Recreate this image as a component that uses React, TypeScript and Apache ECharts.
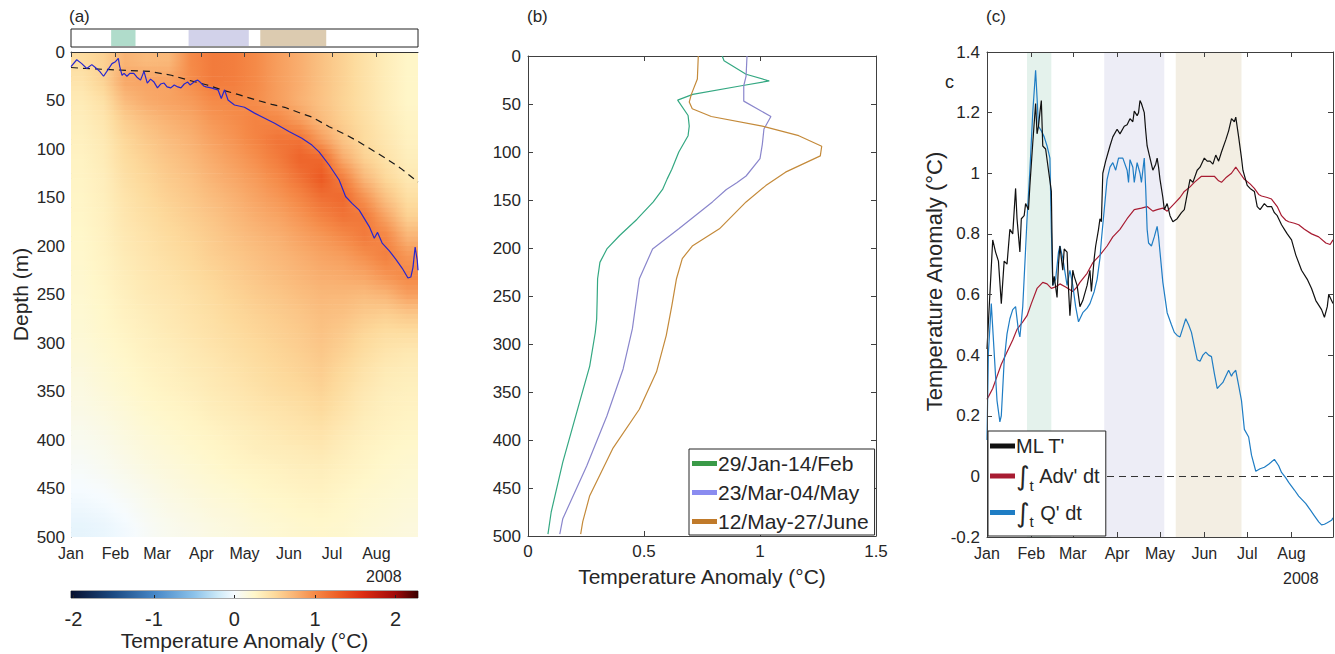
import React, { useEffect, useRef } from "react";
import * as echarts from "echarts";

// ---------- shared time axis ----------
const monthNames = ["Jan", "Feb", "Mar", "Apr", "May", "Jun", "Jul", "Aug"];
const monthStartDays = [0, 31, 60, 91, 121, 152, 182, 213];
const dayMax = 242;
const yearLabel = "2008";

// shaded periods (day of year 2008, 0 = Jan 1)
const bandStarts = [28, 82, 132];
const bandEnds = [45, 124, 178];

// ---------- panel (a): temperature anomaly section ----------
const heatTimeEdges = [0, 15, 30, 45, 60, 76, 91, 106, 121, 136, 152, 167, 182, 197, 212, 227, 242];
const heatDepthEdges = [0, 20, 40, 60, 80, 100, 120, 140, 160, 180, 200, 220, 240, 260, 280, 300, 320, 340, 360, 380, 400, 420, 440, 460, 480, 500];
// rows = depth layers (10 m, 30 m, ... 490 m), columns = half-month periods
const anomalyRows = [
  [0.48, 0.55, 0.75, 0.70, 0.72, 1.00, 1.10, 1.08, 1.00, 0.88, 0.78, 0.66, 0.55, 0.44, 0.34, 0.26],
  [0.42, 0.55, 0.82, 0.85, 0.85, 0.98, 1.10, 1.08, 1.00, 0.88, 0.78, 0.66, 0.55, 0.44, 0.34, 0.26],
  [0.36, 0.45, 0.70, 0.80, 0.85, 0.90, 1.00, 1.02, 0.98, 0.88, 0.76, 0.65, 0.54, 0.44, 0.34, 0.26],
  [0.33, 0.40, 0.58, 0.68, 0.76, 0.82, 0.92, 0.98, 1.05, 1.02, 0.88, 0.70, 0.57, 0.46, 0.36, 0.28],
  [0.31, 0.37, 0.52, 0.61, 0.69, 0.76, 0.86, 0.94, 1.04, 1.14, 1.15, 0.88, 0.64, 0.49, 0.39, 0.30],
  [0.29, 0.35, 0.48, 0.56, 0.64, 0.71, 0.80, 0.88, 0.97, 1.09, 1.25, 1.22, 0.80, 0.56, 0.43, 0.33],
  [0.28, 0.33, 0.45, 0.52, 0.60, 0.66, 0.75, 0.82, 0.90, 1.00, 1.15, 1.32, 1.07, 0.72, 0.51, 0.38],
  [0.27, 0.32, 0.42, 0.49, 0.56, 0.62, 0.69, 0.76, 0.84, 0.92, 1.03, 1.17, 1.22, 0.94, 0.66, 0.46],
  [0.26, 0.31, 0.40, 0.46, 0.52, 0.58, 0.64, 0.71, 0.78, 0.84, 0.93, 1.04, 1.14, 1.12, 0.84, 0.56],
  [0.25, 0.30, 0.38, 0.43, 0.49, 0.54, 0.60, 0.66, 0.72, 0.77, 0.85, 0.92, 1.00, 1.10, 1.02, 0.74],
  [0.24, 0.29, 0.36, 0.41, 0.46, 0.51, 0.57, 0.62, 0.67, 0.72, 0.78, 0.84, 0.88, 0.97, 1.07, 0.92],
  [0.23, 0.28, 0.34, 0.39, 0.43, 0.48, 0.53, 0.58, 0.63, 0.68, 0.73, 0.78, 0.80, 0.84, 0.94, 1.02],
  [0.22, 0.26, 0.32, 0.37, 0.40, 0.44, 0.49, 0.54, 0.59, 0.63, 0.68, 0.72, 0.72, 0.70, 0.74, 0.87],
  [0.21, 0.25, 0.30, 0.34, 0.38, 0.42, 0.46, 0.51, 0.55, 0.59, 0.63, 0.68, 0.66, 0.60, 0.57, 0.62],
  [0.20, 0.24, 0.28, 0.32, 0.36, 0.40, 0.44, 0.48, 0.52, 0.56, 0.60, 0.65, 0.60, 0.52, 0.47, 0.47],
  [0.18, 0.22, 0.26, 0.30, 0.33, 0.37, 0.41, 0.45, 0.49, 0.53, 0.57, 0.62, 0.55, 0.47, 0.41, 0.38],
  [0.16, 0.20, 0.24, 0.28, 0.31, 0.35, 0.38, 0.42, 0.46, 0.50, 0.54, 0.58, 0.50, 0.42, 0.36, 0.34],
  [0.14, 0.18, 0.22, 0.26, 0.29, 0.32, 0.36, 0.39, 0.43, 0.47, 0.50, 0.54, 0.46, 0.38, 0.33, 0.31],
  [0.12, 0.15, 0.19, 0.23, 0.26, 0.29, 0.33, 0.36, 0.39, 0.42, 0.45, 0.49, 0.42, 0.35, 0.31, 0.29],
  [0.09, 0.12, 0.16, 0.20, 0.23, 0.26, 0.29, 0.32, 0.35, 0.38, 0.41, 0.43, 0.37, 0.32, 0.29, 0.27],
  [0.06, 0.09, 0.13, 0.17, 0.20, 0.23, 0.26, 0.29, 0.32, 0.34, 0.36, 0.38, 0.33, 0.29, 0.26, 0.24],
  [0.03, 0.06, 0.10, 0.14, 0.17, 0.20, 0.23, 0.26, 0.28, 0.30, 0.32, 0.33, 0.30, 0.27, 0.24, 0.22],
  [0.00, 0.02, 0.06, 0.10, 0.14, 0.17, 0.20, 0.22, 0.25, 0.27, 0.29, 0.30, 0.27, 0.24, 0.22, 0.20],
  [-0.04, -0.02, 0.02, 0.07, 0.11, 0.14, 0.17, 0.19, 0.22, 0.24, 0.26, 0.27, 0.25, 0.22, 0.20, 0.18],
  [-0.08, -0.06, -0.02, 0.04, 0.08, 0.11, 0.14, 0.16, 0.19, 0.21, 0.23, 0.24, 0.23, 0.20, 0.18, 0.16],
];

// mixed-layer depth (blue) [day, depth m]
const mldPoints: [number, number][] = [
  [0, 15], [4, 8], [7.5, 12], [11, 17], [14.5, 13], [17, 16], [20, 20], [22.7, 25], [25, 20], [28.6, 12],
  [31, 10], [33, 6.5], [34, 15], [35.6, 24], [37, 22], [39, 25], [41, 22], [43.8, 22], [46, 26], [48.5, 29],
  [50.9, 20], [53.2, 32], [55.5, 28], [57.9, 31], [60.3, 37], [62.5, 33], [64.9, 32], [67, 36], [69.6, 37], [72, 34],
  [74.5, 36], [76.7, 37], [79, 33], [81.4, 31], [83, 34], [84.9, 32], [86.5, 30], [88.4, 29], [90.7, 32], [92.5, 35],
  [94.2, 36], [97.8, 37], [100, 38], [102.5, 39], [104.8, 48], [107.1, 39], [109.5, 49.5], [114, 54.6], [121, 57], [128, 63],
  [133, 66.7], [142, 73.5], [152, 82], [161, 89], [168, 96], [173, 103], [180, 116.5], [187, 132], [191.5, 149], [196, 156],
  [201, 163], [208, 180], [211.5, 192], [213.8, 186], [217, 197], [222, 205], [226.7, 214], [231, 223], [235, 233], [237, 232],
  [238.5, 222], [240, 201], [241.5, 215], [242, 225],
];
// climatological depth (dashed) [day, depth m]
const climPoints: [number, number][] = [
  [0, 16], [10, 17], [25, 18], [40, 19], [55, 20], [70, 24], [82, 29], [95, 34], [105, 39], [117, 44], [128, 49],
  [140, 54], [149, 57], [160, 63], [168, 67], [180, 77], [190, 84], [200, 92], [210, 101], [220, 110], [230, 120], [242, 134],
];

// colour bar
const cbarMin = -2.03;
const cbarMax = 2.28;
const cbarTicks = [-2, -1, 0, 1, 2];
const colormapStops: [number, string][] = [
  [-2.03, "#08102e"], [-1.5, "#1c4a82"], [-1.0, "#4686c6"], [-0.5, "#8cc2ea"], [-0.2, "#cdeaf8"],
  [0, "#f6fbff"], [0.25, "#fff7ca"], [0.5, "#fdda9c"], [0.75, "#f9b374"], [1.0, "#f58a48"],
  [1.3, "#ec5c24"], [1.6, "#dc2c12"], [2.0, "#a00a0a"], [2.28, "#380000"],
];

// ---------- panel (b): mean profiles [anomaly, depth] ----------
const profileNames = ["29/Jan-14/Feb", "23/Mar-04/May", "12/May-27/June"];
const profileJanFeb: [number, number][] = [
  [0.837, 0], [0.845, 5], [0.94, 19], [1.04, 26], [0.92, 31], [0.71, 40], [0.645, 46], [0.69, 62], [0.695, 73],
  [0.69, 83], [0.65, 100], [0.62, 118], [0.6, 128], [0.58, 139], [0.54, 152], [0.47, 170], [0.395, 187],
  [0.34, 201], [0.31, 215], [0.30, 232], [0.298, 255], [0.296, 274], [0.29, 288], [0.266, 323], [0.223, 360],
  [0.15, 423], [0.10, 475], [0.086, 498],
];
const profileMarMay: [number, number][] = [
  [0.944, 0], [0.94, 21], [0.93, 31], [0.93, 47], [1.047, 63], [1.017, 76], [1.01, 92], [1.0, 107], [0.94, 125],
  [0.90, 132], [0.855, 139], [0.795, 152], [0.65, 180], [0.537, 201], [0.48, 232], [0.45, 284], [0.41, 326],
  [0.34, 375], [0.253, 427], [0.15, 482], [0.137, 498],
];
const profileMayJun: [number, number][] = [
  [0.734, 0], [0.73, 24], [0.704, 40], [0.695, 48], [0.708, 55], [0.79, 63], [1.01, 73], [1.167, 83], [1.266, 94],
  [1.26, 104], [1.11, 121], [1.025, 135], [0.94, 152], [0.825, 180], [0.708, 198], [0.665, 211], [0.64, 232],
  [0.62, 260], [0.596, 291], [0.554, 329], [0.48, 368], [0.365, 409], [0.266, 458], [0.236, 485], [0.227, 498],
];

// ---------- panel (c): mixed-layer budget [day, anomaly] ----------
const mlTPoints: [number, number][] = [
  [0, 0.42], [2, 0.6], [4, 0.78], [6, 0.74], [8, 0.71], [10, 0.57], [12, 0.71], [14, 0.7], [16, 0.815], [18, 0.8],
  [20, 0.95], [21, 0.85], [23, 0.74], [24, 0.85], [26, 0.86], [27, 0.9], [29, 0.88], [30, 0.96], [32, 1.1], [34, 1.23],
  [35, 1.13], [36, 1.155], [37, 1.2], [38, 1.24], [39, 1.09], [41, 1.08], [43, 1.01], [45, 0.94], [46, 0.63], [47, 0.66],
  [49, 0.59], [50, 0.7], [51, 0.76], [52, 0.72], [53, 0.68], [54, 0.75], [56, 0.74], [57, 0.62], [58, 0.53], [59, 0.6],
  [60, 0.68], [61, 0.66], [63, 0.63], [65, 0.56], [67, 0.58], [70, 0.63], [72, 0.68], [73, 0.61], [75, 0.72], [76, 0.76],
  [78, 0.815], [79, 0.85], [80, 0.84], [81, 1.0], [83, 1.04], [86, 1.09], [88, 1.12], [91, 1.145], [93, 1.13], [96, 1.155],
  [98, 1.16], [100, 1.18], [102, 1.17], [103, 1.205], [105, 1.19], [106, 1.2], [107, 1.24], [108, 1.23], [110, 1.2], [111, 1.14],
  [112, 1.09], [114, 1.05], [116, 1.01], [118, 1.03], [119, 1.05], [120, 1.02], [121, 0.98], [123, 0.92], [124, 0.88], [126, 0.9],
  [128, 0.86], [130, 0.84], [133, 0.85], [136, 0.87], [138, 0.88], [140, 0.93], [142, 0.98], [144, 0.97], [147, 1.01], [149, 1.02],
  [152, 1.05], [154, 1.04], [156, 1.04], [158, 1.03], [160, 1.06], [162, 1.04], [164, 1.07], [167, 1.11], [169, 1.14], [171, 1.18],
  [173, 1.17], [174, 1.185], [176, 1.12], [178, 1.05], [179, 1.01], [182, 0.96], [184, 0.95], [187, 0.94], [189, 0.89], [191, 0.88],
  [194, 0.9], [196, 0.89], [199, 0.89], [201, 0.87], [203, 0.86], [206, 0.83], [208, 0.815], [210, 0.8], [213, 0.78], [216, 0.73],
  [220, 0.68], [224, 0.65], [227, 0.62], [230, 0.58], [234, 0.55], [236, 0.525], [238, 0.56], [239, 0.6], [241, 0.58], [242, 0.57],
];
const advPoints: [number, number][] = [
  [0, 0.254], [4, 0.29], [7, 0.33], [10, 0.37], [14, 0.41], [18, 0.45], [21, 0.485], [25, 0.51], [28, 0.53], [31, 0.57],
  [35, 0.62], [39, 0.64], [42, 0.635], [45, 0.62], [48, 0.625], [51, 0.635], [55, 0.625], [60, 0.61], [63, 0.625], [65, 0.64],
  [70, 0.67], [74, 0.705], [79, 0.73], [84, 0.76], [88, 0.79], [93, 0.815], [98, 0.85], [103, 0.88], [108, 0.885], [112, 0.89],
  [116, 0.875], [119, 0.88], [123, 0.885], [126, 0.875], [131, 0.9], [135, 0.92], [138, 0.94], [142, 0.955], [145, 0.97], [150, 0.99],
  [155, 0.99], [159, 0.99], [162, 0.975], [164, 0.97], [167, 0.985], [171, 1.0], [174, 1.02], [177, 1.0], [180, 0.98], [184, 0.965],
  [187, 0.95], [190, 0.93], [192, 0.925], [196, 0.92], [199, 0.915], [203, 0.89], [206, 0.86], [209, 0.845], [211, 0.84], [215, 0.835],
  [218, 0.83], [222, 0.815], [227, 0.8], [232, 0.79], [237, 0.77], [240, 0.765], [242, 0.78],
];
const heatFluxPoints: [number, number][] = [
  [0, 0.12], [1, 0.41], [3, 0.57], [5, 0.41], [7, 0.25], [9, 0.18], [10, 0.2], [12, 0.38], [14, 0.47], [16, 0.52],
  [18, 0.55], [20, 0.56], [22, 0.48], [23, 0.46], [25, 0.56], [27, 0.75], [28, 0.85], [30, 1.01], [32, 1.2], [34, 1.34],
  [35, 1.25], [36, 1.155], [38, 1.14], [40, 1.12], [42, 1.09], [44, 1.05], [45, 0.815], [46, 0.63], [48, 0.65], [50, 0.74],
  [51, 0.76], [53, 0.72], [55, 0.66], [56, 0.63], [58, 0.68], [60, 0.63], [62, 0.56], [64, 0.51], [66, 0.53], [67, 0.54],
  [70, 0.555], [72, 0.57], [75, 0.61], [77, 0.65], [79, 0.72], [80, 0.78], [82, 0.88], [84, 0.98], [86, 1.02], [88, 1.035],
  [90, 1.01], [92, 1.05], [95, 1.05], [98, 1.01], [99, 0.97], [100, 1.045], [102, 1.02], [103, 0.97], [105, 1.035], [107, 1.0],
  [108, 0.97], [110, 1.05], [111, 0.95], [112, 0.815], [113, 0.77], [115, 0.76], [117, 0.79], [119, 0.825], [120, 0.79], [121, 0.74],
  [123, 0.64], [126, 0.54], [129, 0.5], [131, 0.475], [133, 0.465], [135, 0.46], [137, 0.49], [139, 0.52], [141, 0.5], [143, 0.475],
  [145, 0.43], [147, 0.385], [149, 0.38], [151, 0.4], [153, 0.41], [155, 0.4], [157, 0.395], [159, 0.34], [161, 0.29], [163, 0.3],
  [165, 0.31], [167, 0.33], [169, 0.35], [171, 0.33], [172, 0.34], [174, 0.35], [176, 0.3], [178, 0.25], [180, 0.155], [183, 0.13],
  [185, 0.07], [188, 0.017], [191, 0.025], [194, 0.03], [197, 0.04], [201, 0.056], [204, 0.035], [206, 0.013], [209, -0.005], [211, -0.02],
  [215, -0.045], [218, -0.065], [220, -0.075], [223, -0.09], [226, -0.11], [229, -0.13], [232, -0.15], [234, -0.16], [236, -0.158], [238, -0.153],
  [241, -0.145], [242, -0.137],
];

// ---------- styling ----------
const FONT = "'Liberation Sans', Arial, Helvetica, sans-serif";
const TXT = "#262626";
const AX = "#404040";
const stripBandColors = ["#b0dccb", "#d2d2ea", "#dccbb0"];
const shadeBandColors = ["#e4f2ec", "#ededf6", "#f3eee3"];
const profileColors = ["#34a882", "#8a86cc", "#c48a3a"];
const profileLegendColors = ["#3a9a48", "#8a8cf0", "#c07a2a"];
const budgetNames = ["ML T'", "Adv", "Q"];
const budgetColors = ["#111111", "#a81c32", "#1f7dc4"];
const STRIPS_PER_CELL = 4;

function hexToRgb(h: string) {
  const n = parseInt(h.slice(1), 16);
  return [(n >> 16) & 255, (n >> 8) & 255, n & 255];
}
function colorFor(v: number) {
  const s = colormapStops;
  if (v <= s[0][0]) return s[0][1];
  if (v >= s[s.length - 1][0]) return s[s.length - 1][1];
  for (let i = 0; i < s.length - 1; i++) {
    if (v >= s[i][0] && v <= s[i + 1][0]) {
      const t = (v - s[i][0]) / (s[i + 1][0] - s[i][0]);
      const a = hexToRgb(s[i][1]);
      const b = hexToRgb(s[i + 1][1]);
      const c = a.map((x, k) => Math.round(x + (b[k] - x) * t));
      return `rgb(${c[0]},${c[1]},${c[2]})`;
    }
  }
  return "#fff";
}
// smooth shading between neighbouring cell centres (display only)
function shadeAt(cf: number, rf: number) {
  const nr = anomalyRows.length, nc = anomalyRows[0].length;
  const c = Math.max(0, Math.min(nc - 1, cf));
  const r = Math.max(0, Math.min(nr - 1, rf));
  const c0 = Math.floor(c), r0 = Math.floor(r);
  const c1 = Math.min(nc - 1, c0 + 1), r1 = Math.min(nr - 1, r0 + 1);
  const tc = c - c0, tr = r - r0;
  const top = anomalyRows[r0][c0] * (1 - tc) + anomalyRows[r0][c1] * tc;
  const bot = anomalyRows[r1][c0] * (1 - tc) + anomalyRows[r1][c1] * tc;
  return top * (1 - tr) + bot * tr;
}

function buildOption() {
  const heatData: number[][] = [];
  anomalyRows.forEach((row, ri) => row.forEach((v, ci) => heatData.push([ci, ri, v])));
  const bandData = bandStarts.map((s, i) => [s, bandEnds[i], i]);

  const monthLabel = {
    customValues: monthStartDays,
    formatter: (v: number) => monthNames[monthStartDays.indexOf(Math.round(v))] ?? "",
    color: TXT, fontSize: 16, margin: 8, fontFamily: FONT,
  };
  const insideTicks = (vals?: number[]) => ({ show: true, inside: true, length: 5, lineStyle: { color: AX }, ...(vals ? { customValues: vals } : {}) });
  const axLine = { show: true, onZero: false, lineStyle: { color: AX, width: 1 } };
  const tickFont = { color: TXT, fontSize: 17, fontFamily: FONT };
  const nameFont = { color: TXT, fontSize: 21, fontFamily: FONT };

  const cbarGradStops = colormapStops.map(([v, c]) => ({ offset: (v - cbarMin) / (cbarMax - cbarMin), color: c }));

  const legendRich = {
    int: { fontSize: 26, fontFamily: "'DejaVu Sans', sans-serif", color: TXT },
    sub: { fontSize: 15, color: TXT, padding: [18, 1, 0, 0], fontFamily: FONT },
    txt: { fontSize: 20, color: TXT, fontFamily: FONT },
  };

  return {
    animation: false,
    backgroundColor: "#ffffff",
    textStyle: { fontFamily: FONT },
    grid: [
      { left: 71, top: 52, width: 347, height: 485 },
      { left: 71, top: 29, width: 347, height: 18, show: true, borderColor: "#222", borderWidth: 1, backgroundColor: "#fff" },
      { left: 71, top: 591, width: 347, height: 7, show: true, borderColor: "#555", borderWidth: 1 },
      { left: 528, top: 56, width: 348, height: 480 },
      { left: 987, top: 52, width: 346, height: 485 },
    ],
    xAxis: [
      { gridIndex: 0, type: "value", min: 0, max: dayMax, position: "bottom", axisLine: { show: false, onZero: false }, axisTick: { show: false }, splitLine: { show: false }, axisLabel: monthLabel },
      { gridIndex: 0, type: "value", min: 0, max: dayMax, position: "top", axisLine: { show: true, onZero: false, lineStyle: { color: "#333" } }, axisTick: insideTicks(monthStartDays), axisLabel: { show: false }, splitLine: { show: false }, z: 10 },
      { gridIndex: 1, type: "value", min: 0, max: dayMax, show: false },
      {
        gridIndex: 2, type: "value", min: cbarMin, max: cbarMax, position: "bottom",
        axisLine: { show: false, onZero: false }, splitLine: { show: false },
        axisTick: { show: true, inside: true, length: 3, customValues: cbarTicks, lineStyle: { color: "#222" } },
        axisLabel: { customValues: cbarTicks, color: TXT, fontSize: 20, margin: 11, fontFamily: FONT },
        name: "Temperature Anomaly (°C)", nameLocation: "middle", nameGap: 30, nameTextStyle: nameFont, z: 10,
      },
      {
        gridIndex: 3, type: "value", min: 0, max: 1.5, interval: 0.5, position: "bottom",
        axisLine: axLine, axisTick: insideTicks(), splitLine: { show: false },
        axisLabel: { ...tickFont, margin: 7 },
        name: "Temperature Anomaly (°C)", nameLocation: "middle", nameGap: 30, nameTextStyle: nameFont,
      },
      { gridIndex: 3, type: "value", min: 0, max: 1.5, interval: 0.5, position: "top", axisLine: axLine, axisTick: insideTicks(), axisLabel: { show: false }, splitLine: { show: false } },
      { gridIndex: 4, type: "value", min: 0, max: dayMax, position: "bottom", axisLine: axLine, axisTick: insideTicks(monthStartDays), splitLine: { show: false }, axisLabel: monthLabel, z: 10 },
      { gridIndex: 4, type: "value", min: 0, max: dayMax, position: "top", axisLine: axLine, axisTick: insideTicks(monthStartDays), axisLabel: { show: false }, splitLine: { show: false }, z: 10 },
    ],
    yAxis: [
      {
        gridIndex: 0, type: "value", min: 0, max: 500, interval: 50, inverse: true,
        axisLine: { show: true, onZero: false, lineStyle: { color: "#555" } }, axisTick: { show: false }, splitLine: { show: false },
        axisLabel: { ...tickFont, margin: 6 },
        name: "Depth (m)", nameLocation: "middle", nameGap: 40, nameTextStyle: nameFont,
      },
      { gridIndex: 1, type: "value", min: 0, max: 1, show: false },
      { gridIndex: 2, type: "value", min: 0, max: 1, show: false },
      {
        gridIndex: 3, type: "value", min: 0, max: 500, interval: 50, inverse: true, position: "left",
        axisLine: axLine, axisTick: insideTicks(), splitLine: { show: false }, axisLabel: { ...tickFont, margin: 7 },
      },
      { gridIndex: 3, type: "value", min: 0, max: 500, interval: 50, inverse: true, position: "right", axisLine: axLine, axisTick: insideTicks(), splitLine: { show: false }, axisLabel: { show: false } },
      {
        gridIndex: 4, type: "value", min: -0.2, max: 1.4, interval: 0.2, position: "left",
        axisLine: axLine, axisTick: insideTicks(), splitLine: { show: false }, axisLabel: { ...tickFont, margin: 7 },
        name: "Temperature Anomaly (°C)", nameLocation: "middle", nameGap: 42,
        nameTextStyle: { ...nameFont, fontSize: 22, padding: [0, 0, 0, 26] }, z: 10,
      },
      { gridIndex: 4, type: "value", min: -0.2, max: 1.4, interval: 0.2, position: "right", axisLine: axLine, axisTick: insideTicks(), splitLine: { show: false }, axisLabel: { show: false }, z: 10 },
    ],
    legend: [
      {
        left: 689, top: 449, orient: "vertical", icon: "rect", itemWidth: 25, itemHeight: 5, itemGap: 8, z: 20,
        padding: [4, 6, 3, 3], borderColor: "#262626", borderWidth: 1, backgroundColor: "#fff",
        textStyle: { color: TXT, fontSize: 21, fontFamily: FONT, padding: [0, 0, 0, -4] },
        data: profileNames.map((n, i) => ({ name: n, itemStyle: { color: profileLegendColors[i] } })),
        selectedMode: false,
      },
      {
        left: 988, top: 431, orient: "vertical", icon: "rect", itemWidth: 25, itemHeight: 5, itemGap: 7, z: 20,
        padding: [5, 5, 7, 2], borderColor: "#262626", borderWidth: 1, backgroundColor: "#fff",
        textStyle: { color: TXT, fontSize: 20, fontFamily: FONT, padding: [0, 0, 0, -4], rich: legendRich },
        formatter: (name: string) => {
          if (name === "Adv") return "{int|∫}{sub|t}{txt| Adv' dt}";
          if (name === "Q") return "{int|∫}{sub|t}{txt| Q' dt}";
          return "{txt|" + name + "}";
        },
        data: budgetNames.map((n, i) => ({ name: n, itemStyle: { color: budgetColors[i] } })),
        selectedMode: false,
      },
    ],
    graphic: [
      { type: "text", left: 69, top: 8, style: { text: "(a)", fontSize: 17, fill: TXT, fontFamily: FONT } },
      { type: "text", left: 527, top: 8, style: { text: "(b)", fontSize: 17, fill: TXT, fontFamily: FONT } },
      { type: "text", left: 986, top: 8, style: { text: "(c)", fontSize: 17, fill: TXT, fontFamily: FONT } },
      { type: "text", left: 945, top: 73, style: { text: "c", fontSize: 18, fill: TXT, fontFamily: FONT } },
      { type: "text", left: 366, top: 568, style: { text: yearLabel, fontSize: 16, fill: TXT, fontFamily: FONT } },
      { type: "text", left: 1283, top: 570, style: { text: yearLabel, fontSize: 16, fill: TXT, fontFamily: FONT } },
    ],
    series: [
      // panel (a) anomaly section (cells shaded smoothly towards neighbouring cells)
      {
        type: "custom", xAxisIndex: 0, yAxisIndex: 0, clip: true, silent: true, z: 1,
        data: heatData,
        renderItem: (_p: any, api: any) => {
          const ci = api.value(0), ri = api.value(1);
          const p0 = api.coord([heatTimeEdges[ci], heatDepthEdges[ri]]);
          const p1 = api.coord([heatTimeEdges[ci + 1], heatDepthEdges[ri + 1]]);
          const x = Math.min(p0[0], p1[0]);
          const w = Math.abs(p1[0] - p0[0]);
          const y0 = Math.min(p0[1], p1[1]);
          const h = Math.abs(p1[1] - p0[1]);
          const children = [];
          for (let k = 0; k < STRIPS_PER_CELL; k++) {
            const rf = ri - 0.5 + (k + 0.5) / STRIPS_PER_CELL;
            const grad = new echarts.graphic.LinearGradient(0, 0, 1, 0, [
              { offset: 0, color: colorFor(shadeAt(ci - 0.5, rf)) },
              { offset: 0.5, color: colorFor(shadeAt(ci, rf)) },
              { offset: 1, color: colorFor(shadeAt(ci + 0.5, rf)) },
            ]);
            children.push({
              type: "rect",
              shape: { x, y: y0 + (h * k) / STRIPS_PER_CELL, width: w + 0.6, height: h / STRIPS_PER_CELL + 0.6 },
              style: { fill: grad },
            });
          }
          return { type: "group", children };
        },
      },
      { type: "line", xAxisIndex: 0, yAxisIndex: 0, data: climPoints, showSymbol: false, lineStyle: { color: "#1a1a1a", width: 1.2, type: [7, 5] }, z: 3, silent: true },
      { type: "line", xAxisIndex: 0, yAxisIndex: 0, data: mldPoints, showSymbol: false, lineStyle: { color: "#2626d0", width: 1.2 }, z: 4, silent: true },
      // top strip
      {
        type: "custom", xAxisIndex: 2, yAxisIndex: 1, silent: true, data: bandData,
        renderItem: (_p: any, api: any) => {
          const a = api.coord([api.value(0), 1]);
          const b = api.coord([api.value(1), 0]);
          return { type: "rect", shape: { x: a[0], y: a[1] + 1, width: b[0] - a[0], height: b[1] - a[1] - 2 }, style: { fill: stripBandColors[api.value(2)] } };
        },
      },
      // colour bar
      {
        type: "custom", xAxisIndex: 3, yAxisIndex: 2, silent: true, data: [[cbarMin, cbarMax]],
        renderItem: (_p: any, api: any) => {
          const a = api.coord([api.value(0), 1]);
          const b = api.coord([api.value(1), 0]);
          return {
            type: "rect", shape: { x: a[0], y: a[1], width: b[0] - a[0], height: b[1] - a[1] },
            style: { fill: new echarts.graphic.LinearGradient(0, 0, 1, 0, cbarGradStops) },
          };
        },
      },
      // panel (b) profiles
      ...[profileJanFeb, profileMarMay, profileMayJun].map((d, i) => ({
        type: "line", name: profileNames[i], xAxisIndex: 4, yAxisIndex: 3, data: d, showSymbol: false,
        color: profileColors[i], lineStyle: { color: profileColors[i], width: 1.2 }, silent: true,
      })),
      // panel (c) shading
      {
        type: "custom", xAxisIndex: 6, yAxisIndex: 5, silent: true, z: 0, data: bandData,
        renderItem: (_p: any, api: any) => {
          const a = api.coord([api.value(0), 1.4]);
          const b = api.coord([api.value(1), -0.2]);
          return { type: "rect", shape: { x: a[0], y: a[1], width: b[0] - a[0], height: b[1] - a[1] }, style: { fill: shadeBandColors[api.value(2)] } };
        },
      },
      {
        type: "line", name: budgetNames[1], xAxisIndex: 6, yAxisIndex: 5, data: advPoints, showSymbol: false,
        color: budgetColors[1], lineStyle: { color: budgetColors[1], width: 1.2 }, silent: true, z: 2,
        markLine: { silent: true, symbol: "none", label: { show: false }, lineStyle: { color: "#333", width: 1, type: [7, 5] }, data: [{ yAxis: 0 }] },
      },
      {
        type: "line", name: budgetNames[2], xAxisIndex: 6, yAxisIndex: 5, data: heatFluxPoints, showSymbol: false,
        color: budgetColors[2], lineStyle: { color: budgetColors[2], width: 1.2 }, silent: true, z: 3,
      },
      {
        type: "line", name: budgetNames[0], xAxisIndex: 6, yAxisIndex: 5, data: mlTPoints, showSymbol: false,
        color: budgetColors[0], lineStyle: { color: budgetColors[0], width: 1.2 }, silent: true, z: 4,
      },
    ],
  };
}

export default function App() {
  const ref = useRef<HTMLDivElement>(null);
  useEffect(() => {
    if (!ref.current) return;
    const chart = echarts.init(ref.current, null, { renderer: "svg" });
    chart.setOption(buildOption() as any);
    return () => chart.dispose();
  }, []);
  return (
    <div
      ref={ref}
      style={{ position: "fixed", left: 0, top: 0, width: 1335, height: 654, background: "#fff" }}
    />
  );
}
